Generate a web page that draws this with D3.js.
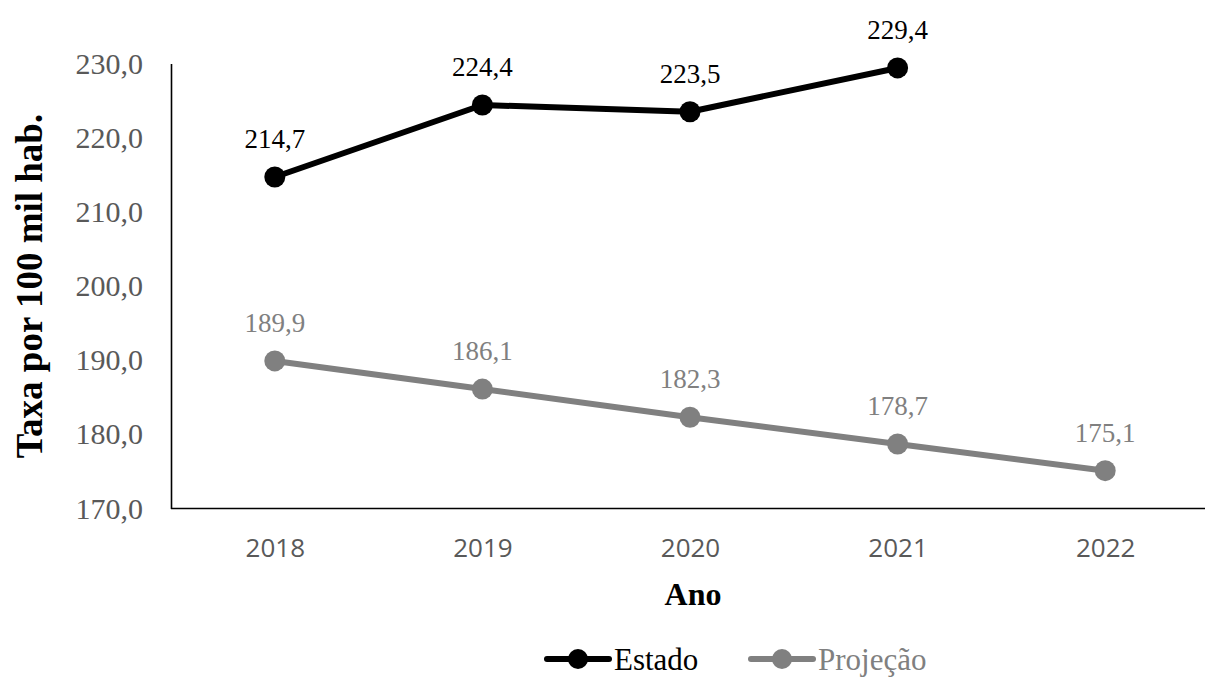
<!DOCTYPE html>
<html>
<head>
<meta charset="utf-8">
<script src="https://cdn.jsdelivr.net/npm/d3@7"></script>
<style>
  html, body { margin: 0; padding: 0; background: #fff; }
  svg { display: block; }
</style>
</head>
<body>
<svg id="chart" width="1205" height="678"></svg>
<script>
// Years and series values (taxa por 100 mil habitantes)
const years = ["2018", "2019", "2020", "2021", "2022"];
const estado = [214.7, 224.4, 223.5, 229.4, null];
const projecao = [189.9, 186.1, 182.3, 178.7, 175.1];
const yTicks = [170, 180, 190, 200, 210, 220, 230];
const seriesNames = ["Estado", "Projeção"];
const seriesColors = ["#000000", "#808080"];

const svg = d3.select("#chart");
const margin = { left: 171, right: -4, top: 63.5, bottom: 169.5 };
const W = 1205, H = 678;

const x = d3.scalePoint()
  .domain(years)
  .range([margin.left, W - margin.right])
  .padding(0.5);

const y = d3.scaleLinear()
  .domain([170, 230])
  .range([H - margin.bottom, margin.top]);

const fmt = v => d3.format(".1f")(v).replace(".", ",");
const serif = "'Liberation Serif', 'Times New Roman', serif";
const sans = "'Open Sans', 'Liberation Sans', sans-serif";

// Y axis
const yAxis = svg.append("g")
  .attr("transform", `translate(${margin.left},0)`)
  .call(d3.axisLeft(y).tickValues(yTicks).tickSize(0).tickPadding(28).tickFormat(fmt));
yAxis.select(".domain").attr("stroke", "#000").attr("stroke-width", 1.6);
yAxis.selectAll("text")
  .attr("font-family", serif)
  .attr("font-size", 30)
  .attr("fill", "#595959");

// X axis
const xAxis = svg.append("g")
  .attr("transform", `translate(0,${H - margin.bottom})`)
  .call(d3.axisBottom(x).tickSize(0).tickPadding(30));
xAxis.select(".domain").attr("stroke", "#000").attr("stroke-width", 1.6)
  .attr("d", `M${margin.left},0H${W}`);
xAxis.selectAll("text")
  .attr("font-family", sans)
  .attr("font-size", 26)
  .attr("fill", "#595959");

// Axis titles
svg.append("text")
  .attr("transform", `translate(42,${(margin.top + H - margin.bottom) / 2}) rotate(-90)`)
  .attr("text-anchor", "middle")
  .attr("font-family", serif)
  .attr("font-weight", "bold")
  .attr("font-size", 37)
  .text("Taxa por 100 mil hab.");

svg.append("text")
  .attr("x", 693)
  .attr("y", 605)
  .attr("text-anchor", "middle")
  .attr("font-family", serif)
  .attr("font-weight", "bold")
  .attr("font-size", 32)
  .text("Ano");

// Series lines, markers and value labels
const allSeries = [estado, projecao];
const line = d3.line()
  .x(d => x(d.year))
  .y(d => y(d.v));

allSeries.forEach((vals, i) => {
  const pts = years.map((yr, j) => ({ year: yr, v: vals[j] })).filter(d => d.v != null);
  const g = svg.append("g");
  g.append("path")
    .datum(pts)
    .attr("fill", "none")
    .attr("stroke", seriesColors[i])
    .attr("stroke-width", 6)
    .attr("stroke-linejoin", "round")
    .attr("d", line);
  g.selectAll("circle")
    .data(pts)
    .join("circle")
    .attr("cx", d => x(d.year))
    .attr("cy", d => y(d.v))
    .attr("r", 10.5)
    .attr("fill", seriesColors[i]);
  g.selectAll("text")
    .data(pts)
    .join("text")
    .attr("x", d => x(d.year))
    .attr("y", d => y(d.v) - 29)
    .attr("text-anchor", "middle")
    .attr("font-family", serif)
    .attr("font-size", 27)
    .attr("fill", seriesColors[i])
    .text(d => fmt(d.v));
});

// Legend
const legendX = [547, 751];
seriesNames.forEach((name, i) => {
  const g = svg.append("g").attr("transform", `translate(${legendX[i]},659)`);
  g.append("line")
    .attr("x1", 0).attr("x2", 62)
    .attr("y1", 0).attr("y2", 0)
    .attr("stroke", seriesColors[i])
    .attr("stroke-width", 6)
    .attr("stroke-linecap", "round");
  g.append("circle").attr("cx", 31).attr("cy", 0).attr("r", 10).attr("fill", seriesColors[i]);
  g.append("text")
    .attr("x", 67)
    .attr("y", 11)
    .attr("font-family", serif)
    .attr("font-size", 31)
    .attr("fill", seriesColors[i])
    .text(name);
});
</script>
</body>
</html>
